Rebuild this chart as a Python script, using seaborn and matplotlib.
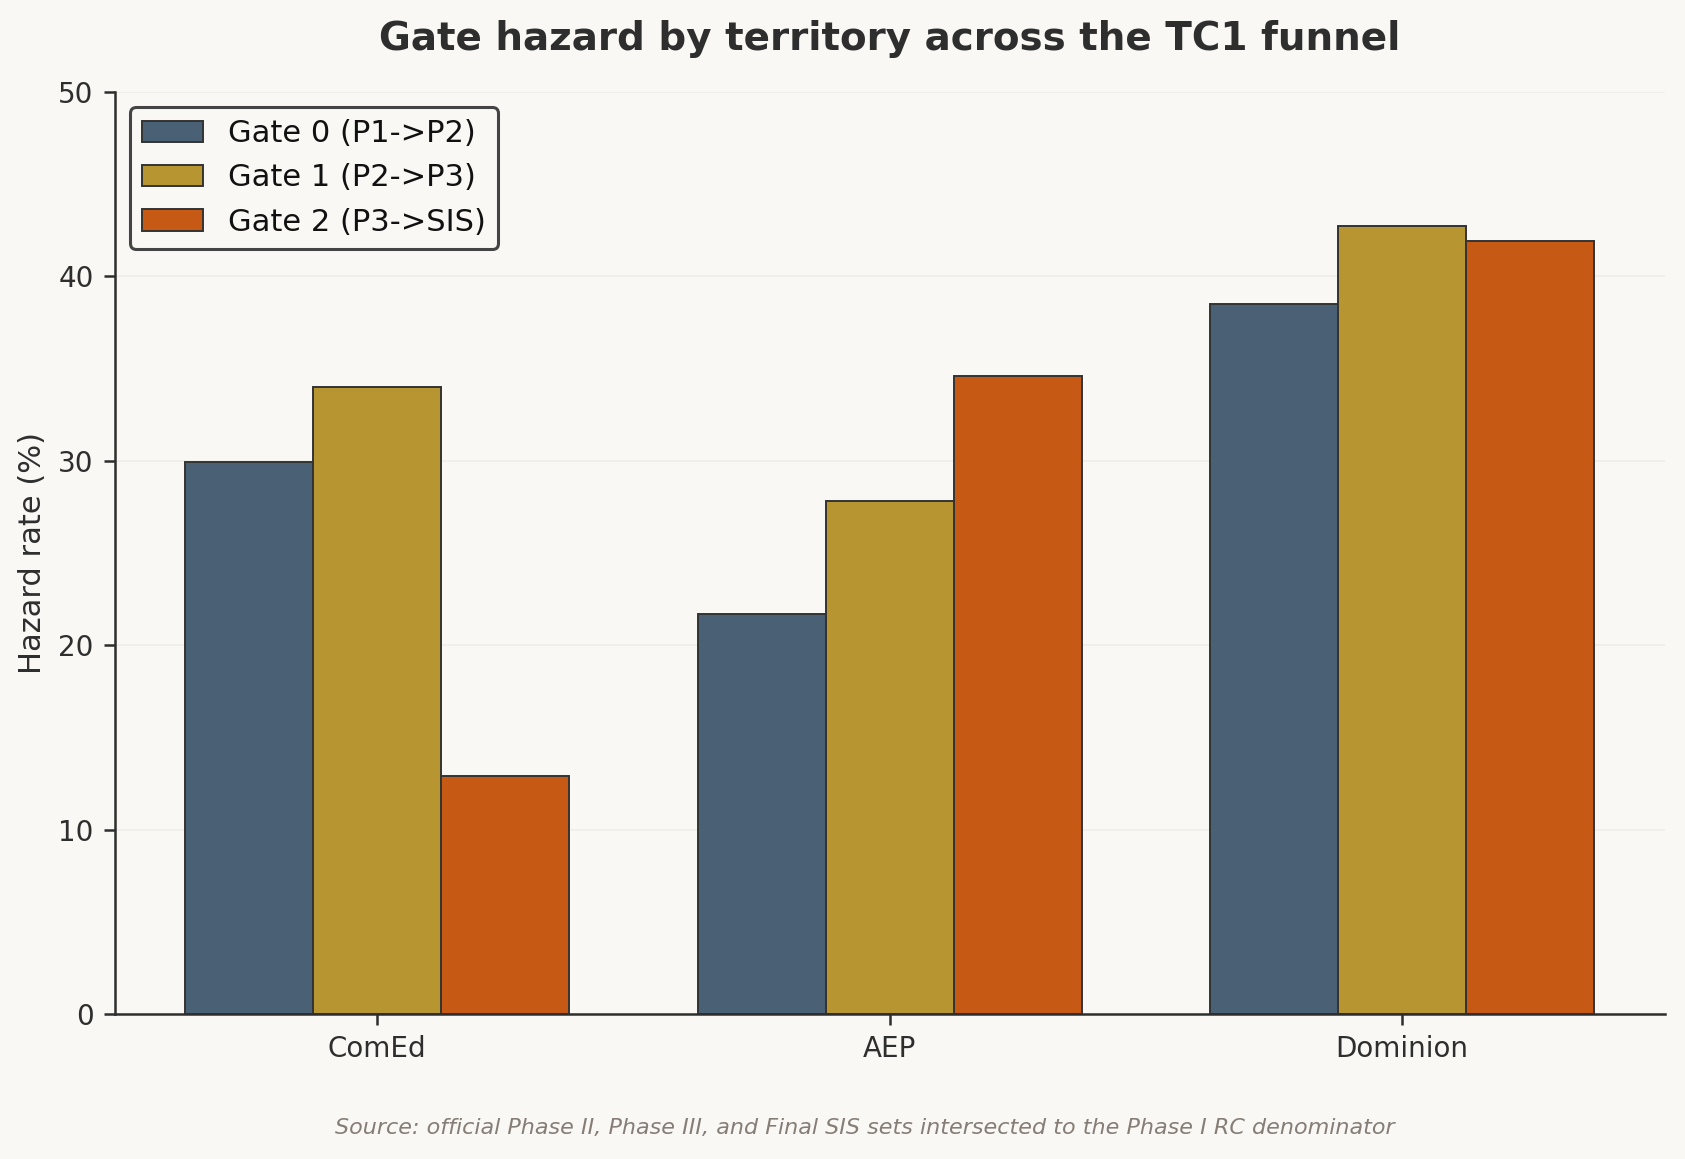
import matplotlib
matplotlib.use("Agg")
import matplotlib.pyplot as plt
import seaborn as sns
import pandas as pd

# valeurs
territorios = ["ComEd", "AEP", "Dominion"]
gates = ["Gate 0 (P1->P2)", "Gate 1 (P2->P3)", "Gate 2 (P3->SIS)"]
gate0 = [29.9, 21.7, 38.5]
gate1 = [34.0, 27.8, 42.7]
gate2 = [12.9, 34.6, 41.9]
colores = ["#4A6074", "#B79530", "#C65A14"]

fondo = "#F9F8F4"
texto = "#2E2E2E"

df = pd.DataFrame({
    "territory": territorios * 3,
    "gate": [gates[0]] * 3 + [gates[1]] * 3 + [gates[2]] * 3,
    "rate": gate0 + gate1 + gate2,
})

sns.set_theme(style="white")
plt.rcParams["font.family"] = ["DejaVu Sans"]

fig = plt.figure(figsize=(8.425, 5.795), dpi=200, facecolor=fondo)
ax = fig.add_axes([0.068, 0.125, 0.92, 0.796])
ax.set_facecolor(fondo)

sns.barplot(data=df, x="territory", y="rate", hue="gate", hue_order=gates,
            order=territorios, palette=colores, width=0.75, saturation=1,
            edgecolor="#333333", linewidth=0.7, ax=ax, errorbar=None)

ax.set_xlim(-0.5125, 2.5125)
ax.set_ylim(0, 50)
ax.set_yticks(range(0, 51, 10))
ax.yaxis.grid(True, color="#EFEEE9", linewidth=0.6)
ax.set_axisbelow(True)
for s in ["top", "right"]:
    ax.spines[s].set_visible(False)
for s in ["left", "bottom"]:
    ax.spines[s].set_color(texto)
    ax.spines[s].set_linewidth(0.9)
ax.tick_params(axis="both", colors=texto, labelsize=10, length=4, width=0.9,
               bottom=True, left=True)
ax.set_xlabel("")
ax.set_ylabel("Hazard rate (%)", fontsize=11, color=texto)

ax.set_title("Gate hazard by territory across the TC1 funnel", fontsize=14,
             fontweight="bold", color=texto, pad=14.8)

leg = ax.legend(loc="upper left", fontsize=11, frameon=True, fancybox=True,
                framealpha=1, facecolor=fondo, edgecolor="#444444",
                borderpad=0.4)
leg.get_frame().set_linewidth(1.1)
for t in leg.get_texts():
    t.set_color("#111111")

fig.text(0.513, 0.027, "Source: official Phase II, Phase III, and Final SIS sets intersected to the Phase I RC denominator",
         ha="center", va="center", fontsize=8, style="italic", color="#857D76")

fig.savefig("out.png", dpi=200, facecolor=fondo)
